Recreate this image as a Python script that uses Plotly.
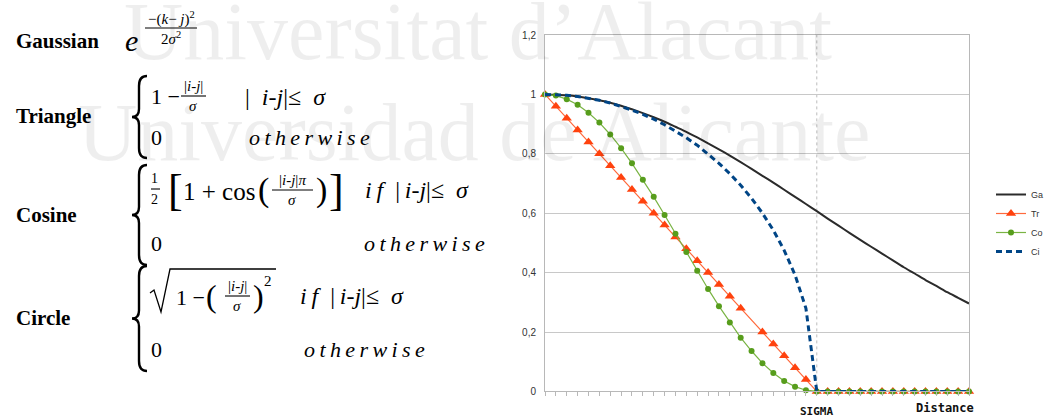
import plotly.graph_objects as go

W, H = 1049, 418

# ---------------- data ----------------
distance = [0, 1, 2, 3, 4, 5, 6, 7, 8, 9, 10, 11, 12, 13, 14, 15, 16, 17, 18, 19,
            20, 21, 22, 23, 24, 25, 26, 27, 28, 29, 30, 31, 32, 33, 34, 35, 36, 37, 38, 39]
sigma = 25
gaussian = [1.000, 0.999, 0.997, 0.993, 0.987, 0.980, 0.972, 0.962, 0.950, 0.937,
            0.923, 0.908, 0.891, 0.874, 0.855, 0.835, 0.815, 0.794, 0.772, 0.749,
            0.726, 0.703, 0.679, 0.655, 0.631, 0.607, 0.582, 0.558, 0.534, 0.510,
            0.487, 0.464, 0.441, 0.418, 0.397, 0.375, 0.355, 0.334, 0.315, 0.296]
triangle = [1.00, 0.96, 0.92, 0.88, 0.84, 0.80, 0.76, 0.72, 0.68, 0.64,
            0.60, 0.56, 0.52, 0.48, 0.44, 0.40, 0.36, 0.32, 0.28, None,
            0.20, 0.16, 0.12, 0.08, 0.04, 0.00, 0.00, 0.00, 0.00, 0.00,
            0.00, 0.00, 0.00, 0.00, 0.00, 0.00, 0.00, 0.00, 0.00, 0.00]
cosine = [1.000, 0.996, 0.984, 0.965, 0.938, 0.905, 0.865, 0.819, 0.768, 0.713,
          0.655, 0.594, 0.531, 0.469, 0.406, 0.345, 0.287, 0.232, 0.181, 0.136,
          0.095, 0.062, 0.035, 0.016, 0.004, 0.000, 0.000, 0.000, 0.000, 0.000,
          0.000, 0.000, 0.000, 0.000, 0.000, 0.000, 0.000, 0.000, 0.000, 0.000]
circle = [1.000, 0.999, 0.997, 0.993, 0.987, 0.980, 0.971, 0.960, 0.947, 0.933,
          0.917, 0.898, 0.877, 0.854, 0.829, 0.800, 0.768, 0.733, 0.694, 0.650,
          0.600, 0.543, 0.475, 0.392, 0.280, 0.000, 0.000, 0.000, 0.000, 0.000,
          0.000, 0.000, 0.000, 0.000, 0.000, 0.000, 0.000, 0.000, 0.000, 0.000]
series_names = ["Ga", "Tr", "Co", "Ci"]
y_ticks = [0, 0.2, 0.4, 0.6, 0.8, 1.0, 1.2]
y_tick_labels = ["0", "0,2", "0,4", "0,6", "0,8", "1", "1,2"]
function_names = ["Gaussian", "Triangle", "Cosine", "Circle"]
watermark_lines = ["Universitat d\u2019Alacant", "Universidad de Alicante"]


def px(x):
    return x / W


def py(y):
    return 1 - y / H


SERIF = "Liberation Serif"
fig = go.Figure()

fig.add_trace(go.Scatter(x=distance, y=gaussian, name=series_names[0], mode="lines",
                         line=dict(color="#2b2b2b", width=2, shape="spline", smoothing=0.6),
                         cliponaxis=False))
fig.add_trace(go.Scatter(x=distance, y=triangle, name=series_names[1], mode="lines+markers",
                         connectgaps=True, line=dict(color="#ff6a3d", width=1.2),
                         marker=dict(symbol="triangle-up", size=9, color="#ff420e"),
                         cliponaxis=False))
fig.add_trace(go.Scatter(x=distance, y=cosine, name=series_names[2], mode="lines+markers",
                         line=dict(color="#7ab444", width=1.2),
                         marker=dict(symbol="circle", size=6, color="#579d1c"),
                         cliponaxis=False))
fig.add_trace(go.Scatter(x=distance, y=circle, name=series_names[3], mode="lines",
                         line=dict(color="#004586", width=3, dash="6px,4px"),
                         cliponaxis=False))

annotations = []
shapes = []

# watermark (semi-transparent so everything stays visible)
WM = "rgba(0,0,0,0.065)"
annotations.append(dict(x=px(834), y=py(31), xref="paper", yref="paper", xanchor="right",
                        yanchor="middle", text=watermark_lines[0], showarrow=False,
                        font=dict(family=SERIF, size=82, color=WM)))
annotations.append(dict(x=px(76), y=py(133), xref="paper", yref="paper", xanchor="left",
                        yanchor="middle", text=watermark_lines[1], showarrow=False,
                        font=dict(family=SERIF, size=82, color=WM)))


def T(x, y, s, size=22, anchor="left", family=SERIF, color="#000"):
    annotations.append(dict(x=px(x), y=py(y), xref="paper", yref="paper", xanchor=anchor,
                            yanchor="middle", text=s, showarrow=False,
                            font=dict(family=family, size=size, color=color)))


def bar(x0, x1, y, w=1.1):
    shapes.append(dict(type="line", xref="paper", yref="paper", x0=px(x0), x1=px(x1),
                       y0=py(y), y1=py(y), line=dict(color="#000", width=w)))


def frac(xc, yb, num, den, x0, x1, size=15):
    T(xc, yb - 10, num, size, anchor="center")
    bar(x0, x1, yb)
    T(xc, yb + 10, den, size, anchor="center")


def brace(xt, y0, y1):
    xv = xt + 7
    xr = xt + 15
    ym = (y0 + y1) / 2
    pts = [("M", xr, y0), ("Q", xv, y0), ("", xv, y0 + 10), ("L", xv, ym - 8),
           ("Q", xv, ym), ("", xt, ym), ("Q", xv, ym), ("", xv, ym + 8),
           ("L", xv, y1 - 10), ("Q", xv, y1), ("", xr, y1)]
    path = " ".join(f"{c}{px(a):.5f},{py(b):.5f}" for c, a, b in pts)
    shapes.append(dict(type="path", xref="paper", yref="paper", path=path,
                       line=dict(color="#000", width=2.4)))


def spaced(word):
    return "\u2009".join(word)


OTHER = "<i>" + spaced("otherwise") + "</i>"
COND = "|\u2002<i>i-j</i>|\u2264\u2002<i>\u03c3</i>"
IFCOND = "<i>i\u2009f</i>\u2002|\u2009<i>i-j</i>|\u2264\u2002<i>\u03c3</i>"

# ---- Gaussian ----
T(14, 41, "<b>" + function_names[0] + "</b>", 21)
T(123, 40, "<i>e</i>", 30)
frac(171, 28, "\u2212(<i>k</i>\u2212 <i>j</i>)<sup>2</sup>", "2<i>\u03c3</i><sup>2</sup>", 145, 197, 15)

# ---- Triangle ----
T(14, 116, "<b>" + function_names[1] + "</b>", 21)
brace(132, 76, 158)
T(149, 97, "1 \u2212", 22)
frac(193, 96, "|<i>i-j</i>|", "<i>\u03c3</i>", 181, 206, 15)
T(243, 97, COND, 24)
T(149, 137, "0", 22)
T(247, 137, OTHER, 22)

# ---- Cosine ----
T(14, 215, "<b>" + function_names[2] + "</b>", 21)
brace(132, 165, 265)
frac(155, 189, "1", "2", 151, 160, 14)
T(166, 190, "[", 44)
T(181, 192, "1 + cos", 25)
T(256, 190, "(", 34)
frac(292, 190, "|<i>i-j</i>|<i>\u03c0</i>", "<i>\u03c3</i>", 272, 313, 15)
T(314, 190, ")", 34)
T(327, 190, "]", 44)
T(363, 190, IFCOND, 24)
T(149, 243, "0", 22)
T(362, 243, OTHER, 22)

# ---- Circle ----
T(14, 318, "<b>" + function_names[3] + "</b>", 21)
brace(132, 266, 371)
rad = [(150, 293), (154, 290), (161, 312), (170, 269), (276, 269)]
shapes.append(dict(type="path", xref="paper", yref="paper",
                   path="M" + " L".join(f"{px(a):.5f},{py(b):.5f}" for a, b in rad),
                   line=dict(color="#000", width=1.3)))
T(174, 297, "1 \u2212", 22)
T(204, 296, "(", 32)
frac(237, 296, "|<i>i-j</i>|", "<i>\u03c3</i>", 225, 250, 15)
T(251, 296, ")", 32)
T(262, 281, "2", 15)
T(298, 296, IFCOND, 24)
T(149, 349, "0", 22)
T(302, 349, OTHER, 22)

# ---- chart extras ----
shapes.append(dict(type="line", xref="x", yref="y", x0=sigma, x1=sigma, y0=0, y1=1.2,
                   line=dict(color="#bdbdbd", width=1, dash="dot"), layer="below"))
shapes.append(dict(type="circle", xref="x", yref="y", xsizemode="pixel", ysizemode="pixel",
                   xanchor=sigma, yanchor=0, x0=-4.5, x1=4.5, y0=-15.5, y1=-6.5,
                   fillcolor="#000", line=dict(width=0)))
MONO = "DejaVu Sans Mono"
annotations.append(dict(x=sigma, y=py(411), xref="x", yref="paper", xanchor="center",
                        yanchor="middle", text="<b>SIGMA</b>", showarrow=False,
                        font=dict(family=MONO, size=11, color="#111")))
annotations.append(dict(x=px(976), y=py(408), xref="paper", yref="paper", xanchor="right",
                        yanchor="middle", text="<b>Distance</b>", showarrow=False,
                        font=dict(family=MONO, size=12, color="#111")))

fig.update_layout(
    width=W, height=H,
    margin=dict(l=0, r=0, t=0, b=0, autoexpand=False),
    paper_bgcolor="white", plot_bgcolor="white",
    showlegend=True,
    legend=dict(x=px(991), y=py(180), xanchor="left", yanchor="top",
                font=dict(family="Liberation Sans", size=9, color="#333"),
                bgcolor="rgba(0,0,0,0)", itemwidth=30, tracegroupgap=0),
    xaxis=dict(domain=[px(545), px(969)], range=[0, 39], showgrid=False, zeroline=False,
               showline=True, linecolor="#b8b8b8", linewidth=1, mirror=True,
               ticks="outside", ticklen=4, tickcolor="#b8b8b8", tick0=0, dtick=1,
               showticklabels=False, fixedrange=True),
    yaxis=dict(domain=[py(391.4), py(35)], range=[0, 1.2], tickvals=y_ticks,
               ticktext=y_tick_labels, showgrid=True, gridcolor="#c8c8c8", gridwidth=1,
               zeroline=False, showline=True, linecolor="#b8b8b8", linewidth=1,
               mirror=True, ticks="", ticklabelstandoff=6,
               tickfont=dict(family="Liberation Sans", size=10, color="#333"),
               fixedrange=True),
    annotations=annotations,
    shapes=shapes,
)

fig.write_html("out.html", config={"displayModeBar": False},
               post_script="document.body.style.margin='0';")
